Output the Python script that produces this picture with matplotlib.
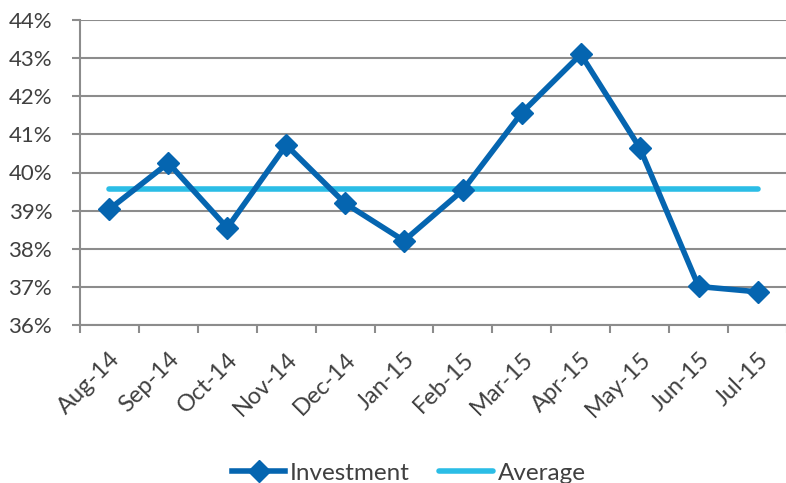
import matplotlib.pyplot as plt
from matplotlib.ticker import FuncFormatter

# monthly investment share (%)
months = ["Aug-14", "Sep-14", "Oct-14", "Nov-14", "Dec-14", "Jan-15",
          "Feb-15", "Mar-15", "Apr-15", "May-15", "Jun-15", "Jul-15"]
investment = [39.04, 40.25, 38.55, 40.72, 39.19, 38.21,
              39.54, 41.57, 43.10, 40.65, 37.01, 36.87]
average = [39.56] * 12
yticks = [36, 37, 38, 39, 40, 41, 42, 43, 44]

plt.rcParams['font.family'] = ['Lato', 'DejaVu Sans']

fig = plt.figure(figsize=(7.86, 4.83), dpi=100)
ax = fig.add_axes([80 / 786, 1 - 325 / 483, 707 / 786, 305 / 483])

x = list(range(len(months)))
ax.plot(x, investment, color="#0565B0", lw=4, marker="D", ms=11,
        label="Investment", zorder=3)
ax.plot(x, average, color="#2BBDE6", lw=4, label="Average", zorder=2,
        solid_capstyle="round")

ax.set_xlim(-0.5, len(months) - 0.5)
ax.set_ylim(36, 44)
ax.set_yticks(yticks)
ax.yaxis.set_major_formatter(FuncFormatter(lambda v, p: "%d%%" % v))

# category ticks sit between months
ax.set_xticks([i - 0.5 for i in range(len(months) + 1)], minor=False)
ax.set_xticklabels([])
ax.set_xticks(x, minor=True)
ax.set_xticklabels(months, minor=True, rotation=45, ha="right",
                   rotation_mode="anchor", fontsize=17, color="#404040")
ax.tick_params(axis="x", which="minor", length=0, pad=17)
ax.tick_params(axis="x", which="major", length=6, width=1.5, color="#8c8c8c")
ax.tick_params(axis="y", length=6, width=1.5, color="#8c8c8c",
               labelsize=16, labelcolor="#404040", pad=14)

ax.grid(axis="y", color="#8c8c8c", lw=1.5)
ax.set_axisbelow(True)
for s in ["top", "right"]:
    ax.spines[s].set_visible(False)
for s in ["left", "bottom"]:
    ax.spines[s].set_color("#8c8c8c")
    ax.spines[s].set_linewidth(1.5)

fig.legend(loc="center", bbox_to_anchor=(0.52, 10 / 483), ncol=2,
           frameon=False, fontsize=17.5, handlelength=2.2, columnspacing=1.2,
           handletextpad=0.2, labelcolor="#404040")

fig.savefig("out.png", dpi=100)
